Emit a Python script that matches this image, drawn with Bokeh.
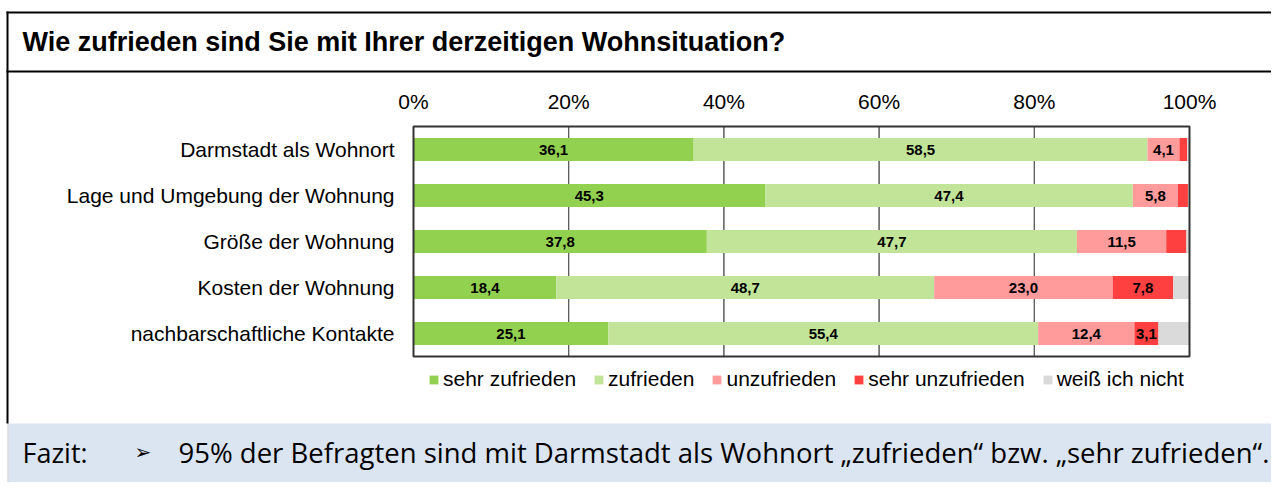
from bokeh.plotting import figure
from bokeh.models import (ColumnDataSource, FactorRange, Range1d, Legend, LegendItem,
                          Label, LabelSet, BoxAnnotation)
from bokeh.core.properties import value
from bokeh.embed import file_html
from bokeh.resources import INLINE

# ---------------- data ----------------
categories = ["Darmstadt als Wohnort", "Lage und Umgebung der Wohnung",
              "Größe der Wohnung", "Kosten der Wohnung", "nachbarschaftliche Kontakte"]
series_names = ["sehr zufrieden", "zufrieden", "unzufrieden", "sehr unzufrieden", "weiß ich nicht"]
sehr_zufrieden = [36.1, 45.3, 37.8, 18.4, 25.1]
zufrieden = [58.5, 47.4, 47.7, 48.7, 55.4]
unzufrieden = [4.1, 5.8, 11.5, 23.0, 12.4]
sehr_unzufrieden = [1.0, 1.3, 2.6, 7.8, 3.1]
weiss_nicht = [0.3, 0.2, 0.4, 2.1, 4.0]
x_ticks = [0, 20, 40, 60, 80, 100]
x_tick_labels = ["0%", "20%", "40%", "60%", "80%", "100%"]

title_text = "Wie zufrieden sind Sie mit Ihrer derzeitigen Wohnsituation?"
fazit_label = "Fazit:"
fazit_text = "95% der Befragten sind mit Darmstadt als Wohnort \u201ezufrieden\u201c bzw. \u201esehr zufrieden\u201c."

colors = ["#92D050", "#C1E499", "#FF9B9B", "#FF4040", "#DADADA"]
keys = ["s1", "s2", "s3", "s4", "s5"]
all_series = [sehr_zufrieden, zufrieden, unzufrieden, sehr_unzufrieden, weiss_nicht]

# ---------------- layout geometry (px, from the top-left) ----------------
W, H = 1271, 482
FL, FR = 413, 1189            # plot area left / right (0% / 100%)
BAND = 46                      # px per category
N = len(categories)
CT = H / 2 - N * BAND / 2      # plot area top
CB = H / 2 + N * BAND / 2      # plot area bottom
PX_PER_PCT = (FR - FL) / 100.0


def sy(y):
    """top-down px -> bokeh screen units (bottom-up, frame == whole canvas)"""
    return H - y


p = figure(width=W, height=H,
           x_range=Range1d(-FL / PX_PER_PCT, (W - FL) / PX_PER_PCT),
           y_range=FactorRange(factors=categories[::-1], range_padding=(H / BAND - N) / 2,
                               range_padding_units="absolute"),
           x_axis_location=None, y_axis_location=None, min_border=0,
           output_backend="svg", toolbar_location=None)
p.grid.visible = False
p.outline_line_color = None
p.background_fill_color = "white"
p.border_fill_color = "white"


# ---- decorations: outer box, title separator, footer ----
def sbox(x0, y0, x1, y1, color, level="underlay"):
    p.add_layout(BoxAnnotation(left=x0, right=x1, top=sy(y0), bottom=sy(y1),
                               left_units="screen", right_units="screen",
                               top_units="screen", bottom_units="screen",
                               fill_color=color, fill_alpha=1, line_color=None, level=level))


sbox(8, 423, W, H, "#DBE5F1")
sbox(7, 423, 8, H, "#C8C8C8")
sbox(6, 11, 8, 423, "black", "overlay")
sbox(6, 11, W, 13, "black", "overlay")
sbox(6, 70, W, 72, "black", "overlay")


def lab(x, y, text, font, size, style="normal"):
    p.add_layout(Label(x=x, y=sy(y), x_units="screen", y_units="screen", text=text,
                       text_font=font, text_font_size=size, text_font_style=style,
                       text_baseline="middle", text_align="left", text_color="black"))


lab(22, 41, title_text, "Liberation Sans", "27px", "bold")
lab(22, 452, fazit_label, "Open Sans", "27px")
lab(134, 451, "\u27a2", "DejaVu Sans", "20px")
lab(178, 452, fazit_text, "Open Sans", "27.5px")

# ---- gridlines (percent scale on x) ----
for t in x_ticks[1:-1]:
    p.add_layout(BoxAnnotation(left=t, right=t, top=sy(CT), bottom=sy(CB),
                               top_units="screen", bottom_units="screen",
                               fill_alpha=0, line_color="#595959", line_alpha=1,
                               line_width=1, level="underlay"))

# ---- bars ----
data = {"cat": categories}
for k, s in zip(keys, all_series):
    data[k] = s
source = ColumnDataSource(data)
renderers = p.hbar_stack(keys, y="cat", height=0.5, fill_color=colors, line_color=None,
                         source=source)

# ---- plot-area outline ----
p.add_layout(BoxAnnotation(left=0, right=100, top=sy(CT), bottom=sy(CB),
                           top_units="screen", bottom_units="screen",
                           fill_alpha=0, line_color="#333333", line_alpha=1,
                           line_width=2, level="overlay"))

# ---- value labels ----
lx, ly, lt = [], [], []
for i, c in enumerate(categories):
    left = 0.0
    for j, s in enumerate(all_series):
        v = s[i]
        if j < 4 and v >= 3:
            lx.append(left + v / 2)
            ly.append(c)
            lt.append(f"{v:.1f}".replace(".", ","))
        left += v
p.text(x="x", y="y", text="t", source=ColumnDataSource(dict(x=lx, y=ly, t=lt)),
       text_align="center", text_baseline="middle",
       text_font=value("Liberation Sans"), text_font_style="bold", text_font_size="15px",
       text_color="black")

# ---- x tick labels (percent scale) ----
p.add_layout(LabelSet(x="x", y="y", text="t", y_units="screen",
                      source=ColumnDataSource(dict(x=x_ticks, y=[sy(CT - 25)] * len(x_ticks),
                                                   t=x_tick_labels)),
                      text_align="center", text_baseline="middle",
                      text_font=value("Liberation Sans"), text_font_size=value("21px"),
                      text_color="black"))

# ---- category labels ----
p.text(x=[0] * N, y=categories, text=categories, x_offset=-19,
       text_align="right", text_baseline="middle",
       text_font=value("Liberation Sans"), text_font_size="21px", text_color="black")

# ---- legend ----
legend = Legend(items=[LegendItem(label=n, renderers=[r]) for n, r in zip(series_names, renderers)],
                orientation="horizontal", location=(428, H - (CB + 23) - 12),
                glyph_width=11, glyph_height=11, label_standoff=4, spacing=17,
                padding=0, margin=0, border_line_color=None, background_fill_alpha=0,
                label_text_font="Liberation Sans", label_text_font_size="21px",
                label_text_color="black")
p.add_layout(legend)

open("out.html", "w").write(file_html(p, INLINE))
